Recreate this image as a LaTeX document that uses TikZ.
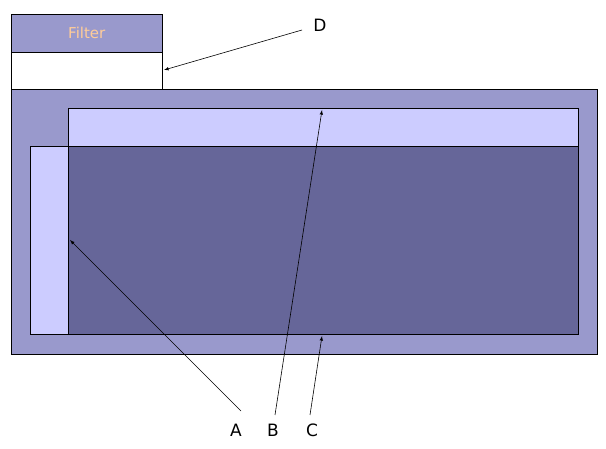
\documentclass[tikz,border=0pt]{standalone}
\usepackage{fontspec}
\setmainfont{DejaVu Sans}
\begin{document}
\begin{tikzpicture}[x=1pt,y=-1pt,
 box/.style={draw=black,line width=0.6pt},
 lbl/.style={font=\fontsize{17}{20}\selectfont},
 arr/.style={-latex,line width=0.6pt}]
\useasboundingbox (0,0) rectangle (606,449);
\fill[white] (0,0) rectangle (606,449);
\node[box,fill={rgb,255:red,153;green,153;blue,204},minimum width=151pt,minimum height=38pt,inner sep=0pt,anchor=north west,font=\fontsize{15}{18}\selectfont,text={rgb,255:red,255;green,204;blue,153}] (filter) at (11,14) {Filter};
\node[box,fill=white,minimum width=151pt,minimum height=37pt,inner sep=0pt,anchor=north west] (white) at (11,52) {};
\node[box,fill={rgb,255:red,153;green,153;blue,204},minimum width=586pt,minimum height=265pt,inner sep=0pt,anchor=north west] (big) at (11,89) {};
\node[box,fill={rgb,255:red,204;green,204;blue,255},minimum width=510pt,minimum height=38pt,inner sep=0pt,anchor=north west] (top) at (68,108) {};
\node[box,fill={rgb,255:red,204;green,204;blue,255},minimum width=38pt,minimum height=188pt,inner sep=0pt,anchor=north west] (left) at (30,146) {};
\node[box,fill={rgb,255:red,102;green,102;blue,153},minimum width=510pt,minimum height=188pt,inner sep=0pt,anchor=north west] (main) at (68,146) {};
\node[lbl] (D) at (320,25) {D};
\node[lbl] (A) at (236,430) {A};
\node[lbl] (B) at (273,430) {B};
\node[lbl] (C) at (312,430) {C};
\coordinate (dt) at (164,70);
\coordinate (at) at (70,240);
\coordinate (bt) at (322,110);
\coordinate (ct) at (322,336);
\draw[arr] (302,30) -- (dt);
\draw[arr] (241,411) -- (at);
\draw[arr] (275,415) -- (bt);
\draw[arr] (310,415) -- (ct);
\end{tikzpicture}
\end{document}
